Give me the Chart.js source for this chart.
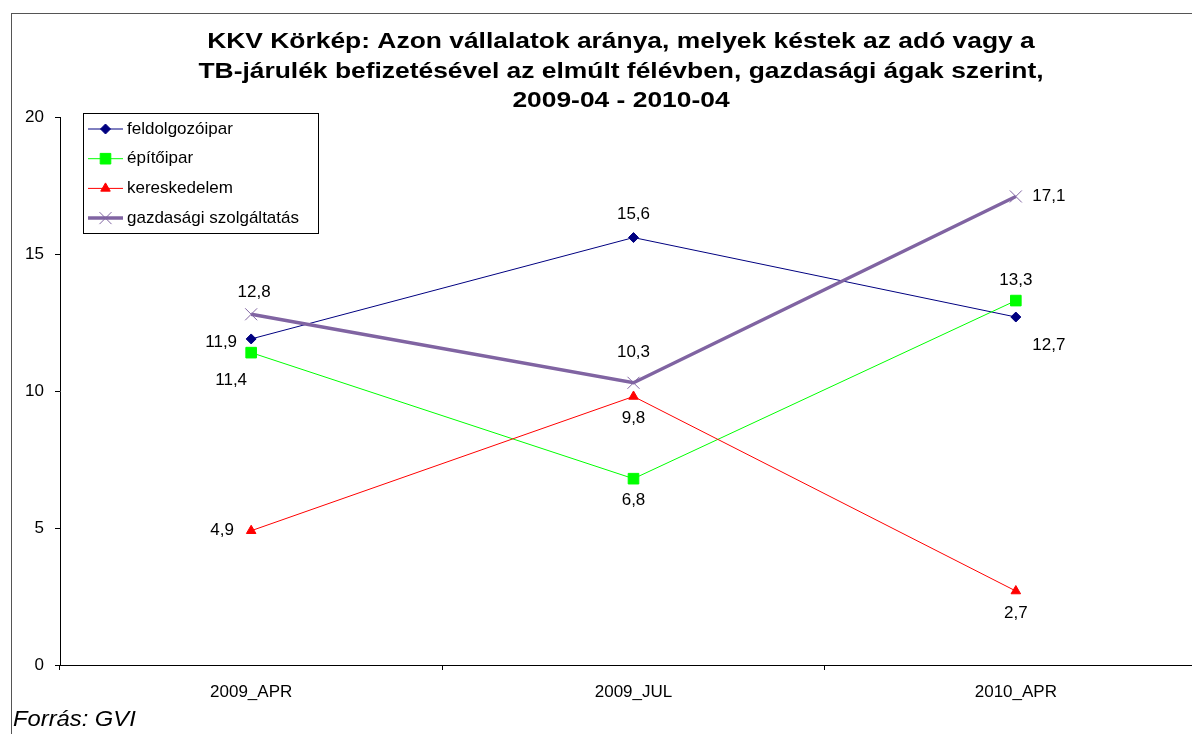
<!DOCTYPE html>
<html>
<head>
<meta charset="utf-8">
<script src="https://cdn.jsdelivr.net/npm/chart.js@4"></script>
<style>
  html, body { margin: 0; padding: 0; overflow: hidden; background: #fff; }
  #wrap { position: absolute; left: 0; top: 0; width: 1232px; height: 734px; }
</style>
</head>
<body>
<div id="wrap"><canvas id="kkv-chart"></canvas></div>
<script>
// chart data
const categories = ['2009_APR', '2009_JUL', '2010_APR'];
const seriesNames = ['feldolgozóipar', 'építőipar', 'kereskedelem', 'gazdasági szolgáltatás'];
const feldolgozoipar = [11.9, 15.6, 12.7];
const epitoipar = [11.4, 6.8, 13.3];
const kereskedelem = [4.9, 9.8, 2.7];
const gazdasagi = [12.8, 10.3, 17.1];
const yTicks = [0, 5, 10, 15, 20];
const titleLines = [
    'KKV Körkép: Azon vállalatok aránya, melyek késtek az adó vagy a',
    'TB-járulék befizetésével az elmúlt félévben, gazdasági ágak szerint,',
    '2009-04 - 2010-04'
];
const sourceText = 'Forrás: GVI';

const FONT = "'Liberation Sans', Arial, sans-serif";

// where each value label sits relative to its point (dx, dy)
const labelOffsets = [
    [[-30, 3], [0, -23], [33, 28]],
    [[-20, 28], [0, 22], [0, -20]],
    [[-29, 0], [0, 22], [0, 22]],
    [[3, -22], [0, -30], [33, 0]]
];

const fmt = v => String(v).replace('.', ',');

// text drawn a bit wider, like the original export
function wideText(ctx, text, x, y, sx) {
    ctx.save();
    ctx.translate(x, y);
    ctx.scale(sx, 1);
    ctx.fillText(text, 0, 0);
    ctx.restore();
}

// value labels, frame, title, legend
const decorPlugin = {
    id: 'decor',
    beforeDraw(chart) {
        const ctx = chart.ctx;
        ctx.save();
        ctx.strokeStyle = '#555';
        ctx.lineWidth = 1;
        ctx.strokeRect(11.5, 13.5, chart.width, chart.height);
        ctx.restore();
    },
    afterDatasetsDraw(chart) {
        const ctx = chart.ctx;
        ctx.save();
        ctx.font = '17px ' + FONT;
        ctx.fillStyle = '#000';
        ctx.textAlign = 'center';
        ctx.textBaseline = 'middle';
        chart.data.datasets.forEach((ds, i) => {
            const meta = chart.getDatasetMeta(i);
            meta.data.forEach((pt, j) => {
                const off = labelOffsets[i][j];
                ctx.fillText(fmt(ds.data[j]), pt.x + off[0], pt.y + off[1]);
            });
        });
        ctx.restore();
    },
    afterDraw(chart) {
        const ctx = chart.ctx;
        ctx.save();
        // title
        ctx.fillStyle = '#000';
        ctx.font = 'bold 22px ' + FONT;
        ctx.textAlign = 'center';
        ctx.textBaseline = 'middle';
        titleLines.forEach((t, i) => wideText(ctx, t, 621, 42 + i * 29.5, 1.2));

        // source
        ctx.font = 'italic 22px ' + FONT;
        ctx.textAlign = 'left';
        wideText(ctx, sourceText, 13, 720, 1.08);

        // legend box
        const lx = 83, ly = 113, lw = 235, lh = 120;
        ctx.fillStyle = '#fff';
        ctx.fillRect(lx, ly, lw, lh);
        ctx.strokeStyle = '#000';
        ctx.lineWidth = 1;
        ctx.strokeRect(lx + 0.5, ly + 0.5, lw, lh);
        ctx.font = '17px ' + FONT;
        ctx.textAlign = 'left';
        chart.data.datasets.forEach((ds, i) => {
            const y = 129 + i * 29.7;
            ctx.strokeStyle = ds.borderColor;
            ctx.lineWidth = ds.borderWidth;
            ctx.beginPath();
            ctx.moveTo(88, y);
            ctx.lineTo(123, y);
            ctx.stroke();
            ctx.fillStyle = ds.pointBackgroundColor;
            ctx.strokeStyle = ds.pointBorderColor;
            ctx.lineWidth = ds.pointBorderWidth;
            Chart.helpers.drawPoint(ctx, {
                pointStyle: ds.pointStyle,
                radius: ds.pointRadius,
                borderWidth: ds.pointBorderWidth
            }, 105.5, y);
            ctx.fillStyle = '#000';
            ctx.fillText(ds.label, 127, y);
        });
        ctx.restore();
    }
};

function series(label, data, color, width, style, radius, order) {
    return {
        label: label,
        data: data,
        borderColor: color,
        borderWidth: width,
        pointStyle: style,
        pointRadius: radius,
        pointBackgroundColor: color,
        pointBorderColor: color,
        pointBorderWidth: 1,
        tension: 0,
        order: order
    };
}

const ctx = document.getElementById('kkv-chart').getContext('2d');
new Chart(ctx, {
    type: 'line',
    data: {
        labels: categories,
        datasets: [
            series(seriesNames[0], feldolgozoipar, '#000080', 1, 'rectRot', 5, 3),
            series(seriesNames[1], epitoipar, '#00FF00', 1, 'rect', 7.5, 2),
            series(seriesNames[2], kereskedelem, '#FF0000', 1, 'triangle', 5.5, 1),
            series(seriesNames[3], gazdasagi, '#8064A2', 3.5, 'crossRot', 8.5, 0)
        ]
    },
    options: {
        responsive: true,
        maintainAspectRatio: false,
        animation: false,
        layout: { padding: { top: 117, right: 25, left: 0, bottom: 0 } },
        plugins: {
            legend: { display: false },
            title: { display: false },
            tooltip: { enabled: false }
        },
        scales: {
            x: {
                offset: true,
                afterFit: s => { s.height = 69; },
                grid: { offset: true, drawOnChartArea: false, color: '#000', tickLength: 5 },
                border: { color: '#000', width: 1 },
                ticks: { color: '#000', padding: 12, font: { size: 17, family: FONT } }
            },
            y: {
                min: 0,
                max: 20,
                afterFit: s => { s.width = 60; },
                afterBuildTicks: s => { s.ticks = yTicks.map(v => ({ value: v })); },
                grid: { drawOnChartArea: false, color: '#000', tickLength: 5 },
                border: { color: '#000', width: 1 },
                ticks: { color: '#000', padding: 11, font: { size: 17, family: FONT } }
            }
        }
    },
    plugins: [decorPlugin]
});
</script>
</body>
</html>
